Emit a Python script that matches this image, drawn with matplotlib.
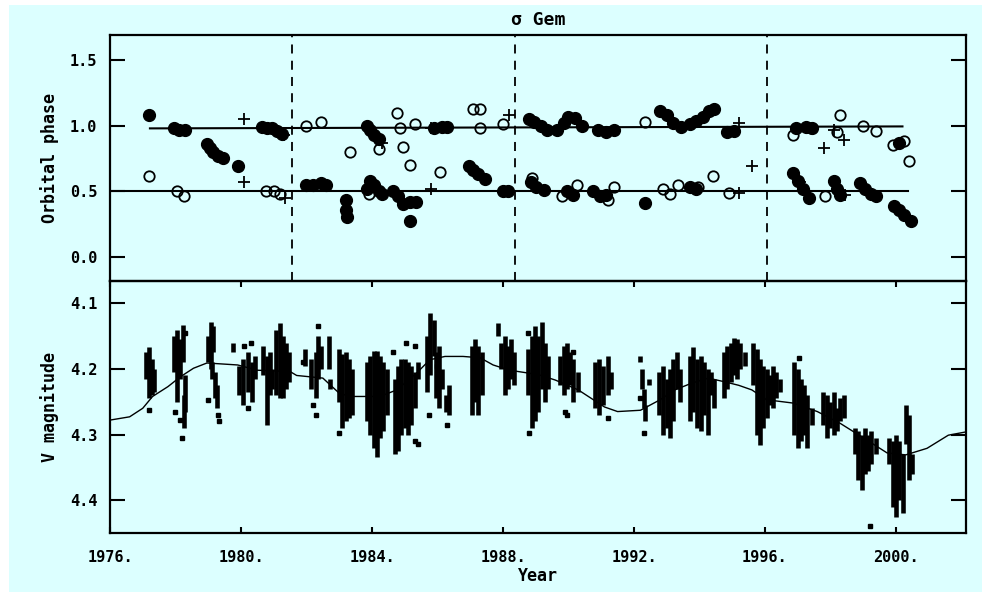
import matplotlib
matplotlib.use("Agg")
import matplotlib.pyplot as plt
from matplotlib.patches import Rectangle

BG = "#dcffff"
FONT = {"family": "DejaVu Sans Mono", "weight": "bold"}

# ---------------- orbital phase panel ----------------
filled_year = [1977.20, 1977.95, 1978.10, 1978.30, 1978.95, 1979.05, 1979.15, 1979.30, 1979.45,
               1979.92, 1980.65, 1980.80, 1980.95, 1981.10, 1981.25, 1982.00, 1982.20, 1982.45,
               1982.60, 1983.20, 1983.22, 1983.25, 1983.85, 1983.95, 1984.05, 1984.20, 1983.85,
               1983.95, 1984.05, 1984.20, 1984.30, 1984.65, 1984.80, 1984.95, 1985.15, 1985.35,
               1985.16, 1985.90, 1986.15, 1986.30, 1986.95, 1987.10, 1987.25, 1987.45, 1988.00,
               1988.15, 1988.80, 1988.95, 1989.15, 1989.35, 1989.65, 1989.85, 1990.00, 1990.20,
               1990.40, 1990.90, 1991.15, 1991.40, 1988.85, 1989.00, 1989.25, 1989.95, 1990.15,
               1990.75, 1990.95, 1991.15, 1992.34, 1992.80, 1993.00, 1993.20, 1993.45, 1993.70,
               1993.90, 1994.10, 1994.30, 1994.45, 1994.85, 1995.05, 1993.70, 1993.90, 1996.85,
               1997.00, 1997.15, 1997.35, 1996.95, 1997.25, 1997.45, 1998.10, 1998.20, 1998.30,
               1998.90, 1999.05, 1999.25, 1999.40, 1999.95, 2000.10, 2000.25, 2000.45, 2000.10]
filled_phase = [1.08, 0.98, 0.97, 0.97, 0.86, 0.83, 0.80, 0.77, 0.75,
                0.69, 0.99, 0.98, 0.98, 0.96, 0.94, 0.55, 0.55, 0.56,
                0.55, 0.43, 0.36, 0.30, 1.00, 0.97, 0.93, 0.90, 0.52,
                0.58, 0.55, 0.50, 0.48, 0.50, 0.46, 0.40, 0.42, 0.42,
                0.27, 0.98, 0.99, 0.99, 0.69, 0.66, 0.63, 0.59, 0.50,
                0.50, 1.05, 1.03, 1.00, 0.97, 0.97, 1.02, 1.07, 1.06,
                1.00, 0.97, 0.95, 0.97, 0.57, 0.53, 0.51, 0.50, 0.47,
                0.50, 0.46, 0.47, 0.41, 1.11, 1.08, 1.02, 0.99, 1.01,
                1.04, 1.07, 1.11, 1.13, 0.95, 0.96, 0.53, 0.52, 0.64,
                0.58, 0.52, 0.45, 0.98, 0.99, 0.98, 0.58, 0.52, 0.47,
                0.56, 0.52, 0.48, 0.46, 0.39, 0.36, 0.32, 0.27, 0.87]

open_year = [1977.20, 1978.05, 1978.25, 1980.75, 1981.00, 1981.20, 1982.00, 1982.45, 1983.33,
             1983.90, 1984.20, 1984.76, 1984.85, 1985.30, 1984.95, 1985.16, 1986.08, 1987.10,
             1987.30, 1987.30, 1988.00, 1988.90, 1989.80, 1990.25, 1991.20, 1991.40, 1992.34,
             1992.90, 1993.10, 1993.35, 1993.95, 1994.40, 1994.90, 1996.85, 1997.40, 1997.83,
             1998.30, 1998.20, 1999.00, 1999.40, 1999.90, 2000.25, 2000.40]
open_phase = [0.62, 0.50, 0.46, 0.50, 0.50, 0.48, 1.00, 1.03, 0.80,
              0.48, 0.82, 1.10, 0.98, 1.01, 0.84, 0.70, 0.65, 1.13,
              1.13, 0.98, 1.01, 0.60, 0.46, 0.55, 0.43, 0.53, 1.03,
              0.52, 0.48, 0.55, 0.53, 0.62, 0.49, 0.93, 0.98, 0.46,
              1.08, 0.95, 1.00, 0.96, 0.85, 0.88, 0.73]

plus_year = [1980.10, 1980.10, 1981.30, 1981.35, 1984.30, 1985.80, 1985.80, 1988.20,
             1995.20, 1995.20, 1995.60, 1997.07, 1997.80, 1998.10, 1998.40, 1998.45]
plus_phase = [1.05, 0.57, 0.93, 0.45, 0.87, 0.98, 0.52, 1.08,
              1.02, 0.49, 0.69, 0.57, 0.83, 0.97, 0.89, 0.47]

# reference phase lines: (start year, end year, start phase, end phase)
phase_lines = [(1977.22, 2000.20, 0.98, 0.995),
               (1976.00, 2000.37, 0.50, 0.50)]
epoch_years = [1981.55, 1988.37, 1996.05]

# ---------------- V magnitude panel ----------------
# nightly ranges: (year, brightest V, faintest V)
nightly_ranges = [
    (1977.10, 4.175, 4.215), (1977.18, 4.166, 4.245), (1977.27, 4.185, 4.240), (1977.33, 4.200, 4.235),
    (1977.95, 4.150, 4.205), (1978.05, 4.140, 4.250), (1978.15, 4.155, 4.215), (1978.22, 4.133, 4.190),
    (1978.30, 4.210, 4.265), (1978.25, 4.240, 4.290),
    (1979.00, 4.150, 4.190), (1979.08, 4.128, 4.200), (1979.16, 4.135, 4.175), (1979.22, 4.205, 4.245),
    (1979.28, 4.225, 4.260), (1979.12, 4.190, 4.215),
    (1979.75, 4.160, 4.175), (1979.95, 4.195, 4.240), (1980.05, 4.185, 4.255), (1980.20, 4.175, 4.235),
    (1980.35, 4.190, 4.250), (1980.42, 4.180, 4.215),
    (1980.68, 4.165, 4.210), (1980.78, 4.180, 4.285), (1980.88, 4.175, 4.240), (1980.95, 4.200, 4.230),
    (1981.08, 4.140, 4.240), (1981.18, 4.130, 4.245), (1981.28, 4.150, 4.245), (1981.38, 4.160, 4.230),
    (1981.48, 4.175, 4.220),
    (1981.95, 4.170, 4.195), (1982.15, 4.185, 4.230), (1982.28, 4.175, 4.245), (1982.35, 4.150, 4.215),
    (1982.45, 4.165, 4.200), (1982.68, 4.150, 4.200), (1982.72, 4.215, 4.230),
    (1983.00, 4.170, 4.250), (1983.10, 4.178, 4.290), (1983.20, 4.175, 4.280), (1983.30, 4.185, 4.275),
    (1983.40, 4.200, 4.270),
    (1983.85, 4.190, 4.280), (1983.95, 4.180, 4.300), (1984.05, 4.172, 4.320), (1984.15, 4.172, 4.334),
    (1984.25, 4.180, 4.305), (1984.35, 4.190, 4.295), (1984.45, 4.200, 4.270),
    (1984.70, 4.215, 4.330), (1984.80, 4.195, 4.325), (1984.90, 4.185, 4.300), (1985.00, 4.185, 4.290),
    (1985.10, 4.190, 4.300), (1985.20, 4.195, 4.285), (1985.30, 4.205, 4.260), (1985.40, 4.190, 4.215),
    (1985.68, 4.150, 4.235), (1985.78, 4.115, 4.210), (1985.88, 4.125, 4.180), (1985.95, 4.175, 4.245),
    (1986.05, 4.165, 4.260), (1986.15, 4.200, 4.230), (1986.25, 4.240, 4.265), (1986.35, 4.225, 4.270),
    (1987.05, 4.165, 4.270), (1987.15, 4.155, 4.250), (1987.25, 4.165, 4.270), (1987.35, 4.175, 4.240),
    (1987.85, 4.130, 4.150), (1987.95, 4.160, 4.200), (1988.05, 4.150, 4.240), (1988.15, 4.165, 4.230),
    (1988.25, 4.155, 4.215), (1988.35, 4.175, 4.225),
    (1988.78, 4.170, 4.240), (1988.88, 4.150, 4.290), (1988.98, 4.135, 4.280), (1989.08, 4.150, 4.265),
    (1989.18, 4.128, 4.230), (1989.28, 4.160, 4.250), (1989.38, 4.180, 4.230),
    (1989.75, 4.180, 4.225), (1989.85, 4.165, 4.240), (1989.95, 4.160, 4.230), (1990.05, 4.175, 4.225),
    (1990.15, 4.185, 4.250), (1990.30, 4.205, 4.235),
    (1990.80, 4.190, 4.260), (1990.92, 4.185, 4.270), (1991.05, 4.195, 4.255), (1991.20, 4.180, 4.240),
    (1991.30, 4.205, 4.230),
    (1992.20, 4.180, 4.190), (1992.25, 4.200, 4.230), (1992.30, 4.230, 4.260), (1992.35, 4.255, 4.280),
    (1992.45, 4.215, 4.225),
    (1992.78, 4.205, 4.270), (1992.90, 4.195, 4.300), (1993.00, 4.215, 4.290), (1993.10, 4.200, 4.305),
    (1993.20, 4.185, 4.280), (1993.30, 4.175, 4.230), (1993.40, 4.200, 4.250),
    (1993.70, 4.180, 4.280), (1993.80, 4.166, 4.265), (1993.92, 4.185, 4.290), (1994.05, 4.180, 4.295),
    (1994.15, 4.190, 4.270), (1994.25, 4.200, 4.300), (1994.35, 4.205, 4.240), (1994.45, 4.215, 4.260),
    (1994.75, 4.175, 4.245), (1994.85, 4.165, 4.230), (1994.95, 4.160, 4.220), (1995.05, 4.153, 4.210),
    (1995.15, 4.155, 4.215), (1995.25, 4.160, 4.200), (1995.40, 4.175, 4.195),
    (1995.65, 4.160, 4.225), (1995.75, 4.170, 4.300), (1995.85, 4.185, 4.316), (1995.95, 4.195, 4.290),
    (1996.05, 4.200, 4.275), (1996.15, 4.210, 4.255), (1996.25, 4.195, 4.260), (1996.35, 4.205, 4.245),
    (1996.45, 4.215, 4.235),
    (1996.90, 4.190, 4.300), (1997.00, 4.200, 4.320), (1997.10, 4.215, 4.310), (1997.20, 4.225, 4.300),
    (1997.30, 4.240, 4.320), (1997.45, 4.260, 4.285),
    (1997.78, 4.235, 4.285), (1997.90, 4.240, 4.305), (1998.00, 4.250, 4.290), (1998.10, 4.235, 4.300),
    (1998.20, 4.260, 4.295), (1998.30, 4.245, 4.280), (1998.42, 4.240, 4.275),
    (1998.75, 4.290, 4.330), (1998.85, 4.295, 4.370), (1998.95, 4.300, 4.385), (1999.05, 4.290, 4.360),
    (1999.15, 4.300, 4.355), (1999.25, 4.295, 4.345), (1999.40, 4.305, 4.330),
    (1999.80, 4.305, 4.345), (1999.90, 4.310, 4.410), (2000.00, 4.300, 4.426), (2000.10, 4.310, 4.400),
    (2000.22, 4.330, 4.420), (2000.30, 4.255, 4.315), (2000.40, 4.270, 4.370), (2000.50, 4.330, 4.360),
]
single_year = [1977.20, 1978.00, 1978.20, 1978.15, 1978.30, 1979.00, 1979.30, 1979.32, 1980.10,
               1980.30, 1980.20, 1982.35, 1982.20, 1982.30, 1981.90, 1982.98, 1984.65, 1985.05,
               1985.30, 1985.40, 1985.30, 1985.75, 1986.30, 1986.00, 1988.80, 1988.75, 1989.90,
               1989.95, 1990.15, 1991.20, 1992.32, 1992.20, 1997.05, 1999.20]
single_mag = [4.262, 4.265, 4.305, 4.278, 4.145, 4.247, 4.270, 4.280, 4.165,
              4.160, 4.260, 4.135, 4.255, 4.270, 4.190, 4.298, 4.175, 4.160,
              4.165, 4.315, 4.310, 4.270, 4.285, 4.195, 4.298, 4.145, 4.265,
              4.270, 4.175, 4.275, 4.298, 4.245, 4.183, 4.440]

trend_year = [1976.0, 1976.6, 1977.0, 1977.3, 1977.77, 1978.15, 1978.55, 1978.96, 1979.9,
              1980.5, 1981.5, 1981.7, 1982.5, 1983.0, 1983.33, 1984.24, 1984.76, 1985.37,
              1985.77, 1986.23, 1986.78, 1987.3, 1987.7, 1988.2, 1988.73, 1989.1, 1989.6,
              1990.3, 1991.1, 1991.5, 1992.2, 1992.8, 1993.25, 1993.75, 1994.27, 1994.8,
              1995.2, 1995.6, 1996.05, 1996.85, 1997.6, 1998.3, 1999.1, 1999.73, 2000.3,
              2000.95, 2001.6, 2002.14]
trend_mag = [4.278, 4.273, 4.260, 4.242, 4.227, 4.212, 4.199, 4.191, 4.194,
             4.202, 4.204, 4.210, 4.214, 4.237, 4.242, 4.242, 4.232, 4.206,
             4.186, 4.181, 4.181, 4.183, 4.194, 4.202, 4.206, 4.209, 4.217,
             4.232, 4.258, 4.265, 4.263, 4.247, 4.232, 4.222, 4.214, 4.220,
             4.225, 4.232, 4.247, 4.252, 4.265, 4.283, 4.308, 4.328, 4.331,
             4.321, 4.301, 4.296]

year_ticks = [1976, 1980, 1984, 1988, 1992, 1996, 2000]
year_labels = ["1976.", "1980.", "1984.", "1988.", "1992.", "1996.", "2000."]
phase_ticks = [0.0, 0.5, 1.0, 1.5]
phase_labels = ["0.0", "0.5", "1.0", "1.5"]
mag_ticks = [4.1, 4.2, 4.3, 4.4]
mag_labels = ["4.1", "4.2", "4.3", "4.4"]

XLIM = (1976.0, 2002.14)

fig = plt.figure(figsize=(9.82, 5.92), dpi=100, facecolor="white")
fig.patches.append(Rectangle((9 / 982, 0), 1 - 9 / 982, 1 - 5 / 592,
                             transform=fig.transFigure, facecolor=BG,
                             edgecolor="none", zorder=-10))

ax1 = fig.add_axes([0.112, 0.5253, 0.8717, 0.4155], facecolor="none")
ax2 = fig.add_axes([0.112, 0.0997, 0.8717, 0.4257], facecolor="none")

for ax in (ax1, ax2):
    for sp in ax.spines.values():
        sp.set_linewidth(1.6)
    ax.set_xlim(*XLIM)
    ax.tick_params(axis="y", direction="in", length=11, width=1.5,
                   left=True, right=True, pad=9)

# top panel
for y in epoch_years:
    ax1.axvline(y, color="black", lw=1.3, ls=(0, (5, 4)), zorder=1)
for x0, x1, p0, p1 in phase_lines:
    ax1.plot([x0, x1], [p0, p1], color="black", lw=1.5, zorder=2)
ax1.plot(filled_year, filled_phase, "o", color="black", ms=8.5, zorder=3)
ax1.plot(open_year, open_phase, "o", mfc="none", mec="black", mew=1.3, ms=7.5, zorder=4)
ax1.plot(plus_year, plus_phase, "+", color="black", mew=1.3, ms=9, zorder=4)

ax1.set_ylim(-0.186, 1.693)
ax1.set_yticks(phase_ticks)
ax1.set_yticklabels(phase_labels, fontdict=FONT, fontsize=11)
ax1.set_xticks(year_ticks)
ax1.tick_params(axis="x", bottom=False, labelbottom=False)
ax1.set_ylabel("Orbital phase", fontdict=FONT, fontsize=12, labelpad=8)
ax1.set_title("σ Gem", fontdict=FONT, fontsize=13, pad=7)

# bottom panel
ax2.vlines([r[0] for r in nightly_ranges], [r[1] for r in nightly_ranges],
           [r[2] for r in nightly_ranges], color="black", lw=3.3, zorder=2)
ax2.plot(single_year, single_mag, "s", color="black", ms=2.8, zorder=2)
ax2.plot(trend_year, trend_mag, color="black", lw=1.0, zorder=3)

ax2.set_ylim(4.45, 4.066)
ax2.set_yticks(mag_ticks)
ax2.set_yticklabels(mag_labels, fontdict=FONT, fontsize=11)
ax2.set_xticks(year_ticks)
ax2.set_xticklabels(year_labels, fontdict=FONT, fontsize=11)
ax2.tick_params(axis="x", direction="in", length=4, width=1.5, top=True, bottom=True, pad=12)
ax2.set_ylabel("V magnitude", fontdict=FONT, fontsize=12, labelpad=8)
ax2.set_xlabel("Year", fontdict=FONT, fontsize=12, labelpad=2)

fig.savefig("out.png", dpi=100, facecolor=fig.get_facecolor())
